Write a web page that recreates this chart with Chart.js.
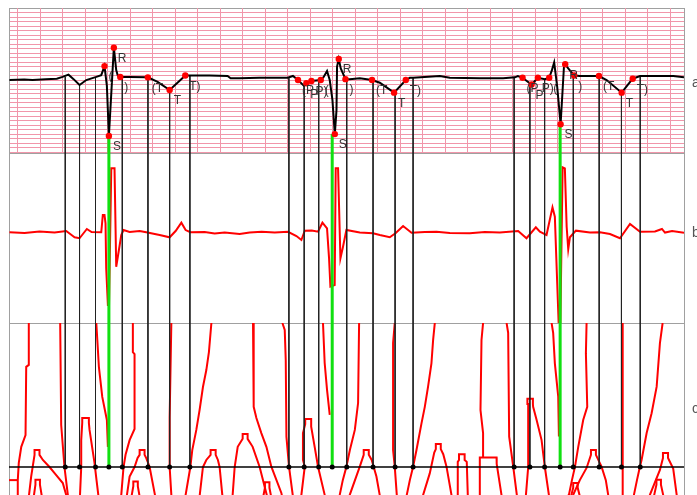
<!DOCTYPE html>
<html>
<head>
<meta charset="utf-8">
<script src="https://cdn.jsdelivr.net/npm/chart.js@4.4.1/dist/chart.umd.min.js"></script>
<style>
  html, body { margin: 0; padding: 0; background: #fff; overflow: hidden; }
  #wrap { width: 697px; height: 520px; }
</style>
</head>
<body>
<div id="wrap"><canvas id="ecg" width="697" height="520"></canvas></div>
<script>
// time axis in seconds, lead a in mV, b and c in arbitrary units
const T_MIN = 0.125, T_MAX = 6.125;
const A_MIN = -1.62, A_MAX = 1.6;
const B_MIN = -1.0, B_MAX = 0.9;
const C_MIN = 0, C_MAX = 6;
const C_LEVEL = 1.5;

const panelNames = ['a', 'b', 'c'];

// panel a: raw ECG [t, mV]
const ecgTrace = [
  [0.129,0],[0.26,0.01],[0.334,0],[0.45,0.02],[0.55,0.03],[0.601,0.07],[0.654,0.12],[0.699,0.02],
  [0.752,-0.11],[0.812,0],[0.901,0.07],[0.945,0.11],[0.974,0.31],[0.995,-0.13],[1.013,-1.24],
  [1.057,0.72],[1.078,0.22],[1.092,0.10],[1.114,0.07],[1.197,0.07],[1.359,0.06],[1.446,-0.04],
  [1.553,-0.22],[1.692,0.10],[1.748,0.10],[1.908,0.10],[2.068,0.09],[2.095,0.04],[2.175,0.04],
  [2.35,0.05],[2.602,0.05],[2.649,0.09],[2.694,0],[2.747,-0.13],[2.768,-0.07],[2.813,-0.02],
  [2.896,0],[2.922,0.07],[2.952,0.2],[2.976,0],[3.0,-0.44],[3.021,-1.2],[3.036,-0.67],[3.041,0.30],
  [3.056,0.47],[3.074,0.26],[3.116,0.02],[3.154,0.02],[3.243,0.04],[3.352,0],[3.421,-0.06],
  [3.548,-0.28],[3.652,0],[3.688,0.05],[3.717,0.05],[3.954,0.09],[4.043,0.05],[4.310,0.04],
  [4.517,0.04],[4.622,0.06],[4.648,0.09],[4.690,0.05],[4.770,-0.1],[4.826,0.05],[4.889,0.02],
  [4.927,0.05],[4.951,0.22],[4.971,0.39],[4.998,-0.15],[5.028,-0.98],[5.046,-0.22],[5.058,0.30],
  [5.069,0.35],[5.096,0.26],[5.149,0.10],[5.200,0.09],[5.369,0.09],[5.437,0],[5.571,-0.28],
  [5.669,0.03],[5.734,0.09],[5.852,0.09],[6.030,0.09],[6.125,0.06]
];

// detected wave points on lead a
const fidTime = [0.974,1.057,1.013,1.114,1.359,1.553,1.692,
  2.694,2.768,2.813,2.896,3.056,3.021,3.116,3.352,3.548,3.652,
  4.690,4.770,4.826,4.927,5.069,5.028,5.149,5.369,5.571,5.669];
const fidAmp = [0.31,0.72,-1.24,0.07,0.06,-0.22,0.10,
  0,-0.07,-0.02,0,0.47,-1.2,0.02,0,-0.28,0,
  0.05,-0.1,0.05,0.05,0.35,-0.98,0.10,0.09,-0.28,0.03];
const fidName = ['(','R','S',')','(T','T','T)',
  '(P','P','P)','(','R','S',')','(T','T','T)',
  '(P','P','P)','(','R','S',')','(T','T','T)'];

// boundary markers (black) and S markers (green)
const markTime = [0.625,0.752,0.894,1.132,1.360,1.553,1.733,
  2.613,2.749,2.878,3.127,3.361,3.557,3.717,
  4.615,4.755,4.886,5.141,5.371,5.569,5.736];
const markAmp = [0.07,-0.11,0.07,0.07,0.07,-0.22,0.11,
  0.04,-0.13,0,0.02,0,-0.29,0.04,
  0.07,-0.09,0.02,0.11,0.09,-0.29,0.09];
const sTime = [1.013, 2.998, 5.024];
const sAmp = [-1.24, -1.2, -0.98];

// panel b: filtered signal
const filtTrace = [
  [0.129,0.014],[0.263,0.005],[0.396,0.023],[0.530,0.011],[0.634,0.028],[0.681,-0.017],[0.708,-0.042],
  [0.752,-0.053],[0.817,0.051],[0.859,0.017],[0.945,0.014],[0.959,0.207],[0.974,0.207],[0.983,0.114],
  [0.989,-0.389],[1.004,-0.799],[1.014,-0.799],[1.034,0.729],[1.063,0.729],[1.078,-0.371],[1.102,-0.184],
  [1.123,-0.017],[1.143,0.039],[1.197,0.017],[1.286,0.028],[1.345,0.014],[1.464,-0.017],[1.553,-0.042],
  [1.606,0.028],[1.657,0.121],[1.695,0.039],[1.737,0.014],[1.864,0.017],[1.953,0.001],[2.042,0.011],
  [2.175,-0.005],[2.264,0.011],[2.371,0.020],[2.487,0.011],[2.605,0.020],[2.680,-0.028],[2.724,-0.072],
  [2.754,0.032],[2.816,0.034],[2.872,0.020],[2.911,0.121],[2.952,0.058],[2.970,-0.277],[2.982,-0.594],
  [3.020,-0.575],[3.029,0.729],[3.050,0.729],[3.071,-0.277],[3.094,-0.147],[3.124,0.039],[3.243,0.011],
  [3.361,0.003],[3.421,-0.017],[3.510,-0.042],[3.563,0.005],[3.628,0.084],[3.703,0.009],[3.821,0.017],
  [3.925,0.020],[4.043,0.005],[4.221,0.003],[4.355,0.017],[4.488,0.011],[4.651,0.028],[4.725,-0.053],
  [4.808,0.070],[4.844,0.020],[4.903,-0.017],[4.956,0.293],[4.977,0.188],[4.998,-0.556],[5.013,-1.08],
  [5.025,-1.08],[5.046,0.740],[5.066,0.729],[5.082,0.076],[5.096,-0.176],[5.111,-0.042],[5.164,0.032],
  [5.289,0.011],[5.378,0.014],[5.467,-0.005],[5.556,-0.053],[5.645,0.106],[5.734,0.020],[5.867,0.022],
  [5.929,0.051],[5.956,0.011],[6.019,0.028],[6.125,0.009]
];

// panel c: scale tracks
const scaleTracks = [
  [[0.301,6],[0.301,4.69],[0.278,4.63],[0.272,2.5],[0.234,2.13],[0.212,1.63],[0.203,1.09],[0.203,0.3]],
  [[0.12,1.09],[0.203,1.09]],
  [[0.580,6],[0.589,2.81],[0.618,1.5],[0.648,0.63],[0.663,0.2]],
  [[0.901,6],[0.910,5.47],[0.924,4.63],[0.954,3.69],[0.995,2.97],[1.004,2.13]],
  [[1.226,6],[1.226,5.09],[1.241,5.03],[1.241,2.69],[1.197,2.34],[1.161,1.88],[1.143,1.5],[1.123,0.63],[1.115,0.3]],
  [[1.568,6],[1.553,3.06],[1.553,1.5],[1.568,0.63],[1.575,0.3]],
  [[1.924,6],[1.902,5.09],[1.879,4.53],[1.849,4.0],[1.819,3.28],[1.790,2.66],[1.754,2.03],[1.737,1.5],[1.695,0.63],[1.68,0.3]],
  [[0.292,0.3],[0.322,1.2],[0.352,1.88],[0.352,2.03],[0.396,2.03],[0.396,1.88],[0.426,1.72],[0.485,1.5],[0.530,1.31],[0.603,1.0],[0.66,0.3]],
  [[0.334,0.3],[0.36,0.95],[0.36,1.1],[0.40,1.1],[0.40,0.95],[0.43,0.3]],
  [[0.752,0.3],[0.767,1.5],[0.767,2.34],[0.776,2.88],[0.776,3.03],[0.835,3.03],[0.835,2.88],[0.841,2.66],[0.885,1.63],[0.903,1.09],[0.93,0.3]],
  [[1.16,0.3],[1.197,1.2],[1.241,1.5],[1.268,1.78],[1.286,1.88],[1.286,2.03],[1.330,2.03],[1.330,1.88],[1.345,1.78],[1.375,1.5],[1.44,0.3]],
  [[1.20,0.3],[1.23,0.9],[1.23,1.05],[1.27,1.05],[1.27,0.9],[1.30,0.3]],
  [[1.81,0.3],[1.849,1.5],[1.879,1.72],[1.917,1.88],[1.917,2.03],[1.962,2.03],[1.962,1.88],[1.982,1.72],[1.997,1.5],[2.03,0.3]],
  [[2.294,6],[2.300,3.38],[2.324,3.03],[2.368,2.56],[2.413,2.13],[2.457,1.51],[2.546,0.69],[2.576,0.16]],
  [[2.10,0.3],[2.113,0.63],[2.131,1.5],[2.158,2.13],[2.202,2.38],[2.202,2.53],[2.246,2.53],[2.246,2.38],[2.291,2.13],[2.353,1.5],[2.44,0.3]],
  [[2.37,0.3],[2.40,0.85],[2.40,1.02],[2.44,1.02],[2.44,0.85],[2.47,0.3]],
  [[2.555,6],[2.576,5.78],[2.585,4.84],[2.591,2.45],[2.614,1.51],[2.647,0.63],[2.655,0.3]],
  [[2.72,0.3],[2.724,0.63],[2.754,1.51],[2.738,1.72],[2.738,2.56],[2.758,2.84],[2.758,3.0],[2.811,3.0],[2.811,2.76],[2.842,2.13],[2.872,1.51],[2.931,0.63],[2.95,0.3]],
  [[2.916,6],[2.931,4.75],[2.952,3.91],[2.976,3.13]],
  [[3.237,6],[3.228,3.5],[3.199,2.66],[3.155,2.03],[3.124,1.51],[3.092,1.09],[3.065,0.63],[3.055,0.3]],
  [[3.14,0.3],[3.154,0.63],[3.243,1.51],[3.278,1.88],[3.278,2.03],[3.323,2.03],[3.323,1.88],[3.349,1.72],[3.391,1.2],[3.42,0.63],[3.43,0.3]],
  [[3.554,6],[3.539,5.37],[3.539,2.03],[3.554,1.51],[3.572,0.63],[3.575,0.3]],
  [[3.910,6],[3.895,5.47],[3.880,4.74],[3.850,4.01],[3.821,3.38],[3.792,2.87],[3.747,2.03],[3.717,1.51],[3.688,1.09],[3.661,0.63],[3.65,0.3]],
  [[3.80,0.3],[3.806,0.63],[3.865,1.3],[3.905,1.95],[3.919,2.06],[3.919,2.22],[3.963,2.22],[3.963,2.06],[3.985,1.9],[4.014,1.51],[4.058,0.63],[4.07,0.3]],
  [[4.114,0.3],[4.114,1.66],[4.125,1.72],[4.125,1.9],[4.175,1.9],[4.175,1.72],[4.194,1.66],[4.206,0.3]],
  [[4.339,6],[4.325,5.47],[4.316,3.28],[4.339,2.56],[4.339,1.8]],
  [[4.31,0.3],[4.31,1.8],[4.459,1.8],[4.46,1.6],[4.517,0.3]],
  [[4.548,6],[4.562,5.69],[4.571,2.45],[4.607,1.51],[4.639,0.63],[4.645,0.3]],
  [[4.71,0.3],[4.72,0.63],[4.74,1.5],[4.74,3.47],[4.733,3.47],[4.733,3.63],[4.782,3.63],[4.782,3.47],[4.784,3.38],[4.815,2.97],[4.859,2.34],[4.888,1.5],[4.924,0.63],[4.93,0.3]],
  [[4.948,6],[4.962,5.69],[4.977,4.74],[5.007,3.70],[5.013,2.45]],
  [[5.259,6],[5.253,5.05],[5.265,3.38],[5.229,2.97],[5.185,2.13],[5.156,1.51],[5.129,1.09],[5.102,0.63],[5.095,0.3]],
  [[5.13,0.3],[5.140,0.63],[5.199,1.09],[5.259,1.47],[5.298,1.88],[5.298,2.03],[5.342,2.03],[5.342,1.88],[5.392,1.51],[5.430,1.09],[5.451,0.63],[5.46,0.3]],
  [[5.10,0.3],[5.14,0.85],[5.14,1.0],[5.18,1.0],[5.18,0.85],[5.22,0.3]],
  [[5.580,6],[5.580,0.3]],
  [[5.935,6],[5.911,5.37],[5.882,4.01],[5.837,3.18],[5.793,2.56],[5.748,1.72],[5.733,1.51],[5.707,1.09],[5.680,0.63],[5.67,0.3]],
  [[5.81,0.3],[5.822,0.63],[5.911,1.41],[5.938,1.78],[5.938,1.94],[5.983,1.94],[5.983,1.78],[6.029,1.45],[6.060,0.63],[6.07,0.3]],
  [[5.84,0.3],[5.88,0.95],[5.88,1.1],[5.92,1.1],[5.92,0.95],[5.96,0.3]]
];

const PINK = '#f196aa';
const FRAME = '#a0a0a0';

const xy = arr => arr.map(p => ({x: p[0], y: p[1]}));

// vertical segments, one gap-separated polyline per panel
function drops(times, from, to) {
  const out = [];
  times.forEach((t, i) => {
    out.push({x: t, y: Array.isArray(from) ? from[i] : from}, {x: t, y: to}, {x: t, y: null});
  });
  return out;
}

const lineDefaults = {pointRadius: 0, fill: false, tension: 0, spanGaps: false};

const datasets = [
  Object.assign({}, lineDefaults, {
    label: 'wave points', yAxisID: 'ya', order: 0, showLine: false,
    data: fidTime.map((t, i) => ({x: t, y: fidAmp[i]})),
    pointRadius: 3.2, pointBackgroundColor: '#ff0000', pointBorderColor: '#ff0000', pointBorderWidth: 0
  }),
  Object.assign({}, lineDefaults, {
    label: 'ECG', yAxisID: 'ya', order: 1, data: xy(ecgTrace),
    borderColor: '#000', borderWidth: 2
  }),
  Object.assign({}, lineDefaults, {
    label: 'S a', yAxisID: 'ya', order: 2, data: drops(sTime, sAmp, A_MIN),
    borderColor: '#11e011', borderWidth: 3
  }),
  Object.assign({}, lineDefaults, {
    label: 'marks a', yAxisID: 'ya', order: 3, data: drops(markTime, markAmp, A_MIN),
    borderColor: '#222', borderWidth: 1
  }),
  Object.assign({}, lineDefaults, {
    label: 'S b', yAxisID: 'yb', order: 2, data: drops(sTime, B_MAX, B_MIN),
    borderColor: '#11e011', borderWidth: 3
  }),
  Object.assign({}, lineDefaults, {
    label: 'filtered', yAxisID: 'yb', order: 4, data: xy(filtTrace),
    borderColor: '#ff0000', borderWidth: 2
  }),
  Object.assign({}, lineDefaults, {
    label: 'marks b', yAxisID: 'yb', order: 3, data: drops(markTime, B_MAX, B_MIN),
    borderColor: '#222', borderWidth: 1
  }),
  Object.assign({}, lineDefaults, {
    label: 'level dots', yAxisID: 'yc', order: 0, showLine: false,
    data: markTime.concat(sTime).map(t => ({x: t, y: C_LEVEL})),
    pointRadius: 2.5, pointBackgroundColor: '#000', pointBorderWidth: 0
  }),
  Object.assign({}, lineDefaults, {
    label: 'level', yAxisID: 'yc', order: 1,
    data: [{x: T_MIN, y: C_LEVEL}, {x: T_MAX, y: C_LEVEL}],
    borderColor: '#000', borderWidth: 1.5
  }),
  Object.assign({}, lineDefaults, {
    label: 'S c', yAxisID: 'yc', order: 2, data: drops(sTime, C_MAX, C_LEVEL),
    borderColor: '#11e011', borderWidth: 3
  }),
  Object.assign({}, lineDefaults, {
    label: 'marks c', yAxisID: 'yc', order: 3, data: drops(markTime, C_MAX, C_LEVEL),
    borderColor: '#222', borderWidth: 1
  })
];

scaleTracks.forEach((track, i) => {
  datasets.push(Object.assign({}, lineDefaults, {
    label: 'track ' + i, yAxisID: 'yc', order: 5, data: xy(track),
    borderColor: '#ff0000', borderWidth: 2
  }));
});

// ECG paper verticals (only on lead a) and the text labels
const ecgPaper = {
  id: 'ecgPaper',
  beforeDatasetsDraw(chart) {
    const {ctx, scales: {x, ya}} = chart;
    ctx.save();
    ctx.strokeStyle = PINK;
    ctx.lineWidth = 1;
    ctx.beginPath();
    x.ticks.forEach(tk => {
      if (tk.value <= T_MIN || tk.value >= T_MAX) return;
      const px = Math.round(x.getPixelForValue(tk.value)) + 0.5;
      ctx.moveTo(px, ya.top);
      ctx.lineTo(px, ya.bottom);
    });
    ctx.stroke();
    ctx.restore();
  },
  afterDatasetsDraw(chart) {
    const {ctx, scales: {x, ya, yb, yc}} = chart;
    ctx.save();
    ctx.font = '12px "Liberation Sans", Arial, sans-serif';
    ctx.fillStyle = '#333';
    ctx.textBaseline = 'top';
    fidTime.forEach((t, i) => {
      ctx.fillText(fidName[i], x.getPixelForValue(t) + 4, ya.getPixelForValue(fidAmp[i]) + 5);
    });
    ctx.font = '14px "Liberation Sans", Arial, sans-serif';
    ctx.fillStyle = '#555';
    ctx.textBaseline = 'alphabetic';
    const rx = chart.chartArea.right + 8;
    ctx.fillText(panelNames[0], rx, ya.getPixelForValue(-0.16));
    ctx.fillText(panelNames[1], rx, yb.getPixelForValue(-0.04));
    ctx.fillText(panelNames[2], rx, yc.getPixelForValue(3.19));
    ctx.restore();
  }
};

function fixedTicks(list) {
  return scale => { scale.ticks = list.map(v => ({value: v})); };
}

const paperTicks = [T_MIN];
for (let k = 1; k <= 30; k++) paperTicks.push(+(k * 0.2).toFixed(1));
paperTicks.push(T_MAX);

const mvTicks = [A_MIN];
for (let k = -16; k <= 16; k++) mvTicks.push(+(k * 0.1).toFixed(1));

const hidden = {display: false};

new Chart(document.getElementById('ecg'), {
  type: 'line',
  data: {datasets},
  options: {
    responsive: false,
    animation: false,
    devicePixelRatio: 1,
    layout: {padding: {left: 9, right: 13, top: 8, bottom: 5}},
    plugins: {legend: hidden, tooltip: {enabled: false}},
    scales: {
      x: {
        type: 'linear', min: T_MIN, max: T_MAX,
        afterBuildTicks: fixedTicks(paperTicks),
        ticks: hidden,
        border: hidden,
        grid: {
          drawTicks: false,
          color: c => (c.tick && (c.tick.value === T_MAX || c.tick.value === T_MIN)) ? FRAME : 'rgba(0,0,0,0)'
        }
      },
      ya: {
        type: 'linear', position: 'left', stack: 'leads', stackWeight: 145, weight: 3,
        min: A_MIN, max: A_MAX,
        afterBuildTicks: fixedTicks(mvTicks),
        ticks: hidden,
        border: {display: true, color: FRAME},
        grid: {
          drawTicks: false,
          color: c => (c.tick && (c.tick.value === A_MAX || c.tick.value === A_MIN)) ? FRAME : PINK
        }
      },
      yb: {
        type: 'linear', position: 'left', stack: 'leads', stackWeight: 170, weight: 2,
        min: B_MIN, max: B_MAX,
        afterBuildTicks: fixedTicks([B_MIN, B_MAX]),
        ticks: hidden,
        border: {display: true, color: FRAME},
        grid: {drawTicks: false, color: FRAME}
      },
      yc: {
        type: 'linear', position: 'left', stack: 'leads', stackWeight: 192, weight: 1,
        min: C_MIN, max: C_MAX,
        afterBuildTicks: fixedTicks([C_MAX]),
        ticks: hidden,
        border: {display: true, color: FRAME},
        grid: {drawTicks: false, color: FRAME}
      }
    }
  },
  plugins: [ecgPaper]
});
</script>
</body>
</html>
